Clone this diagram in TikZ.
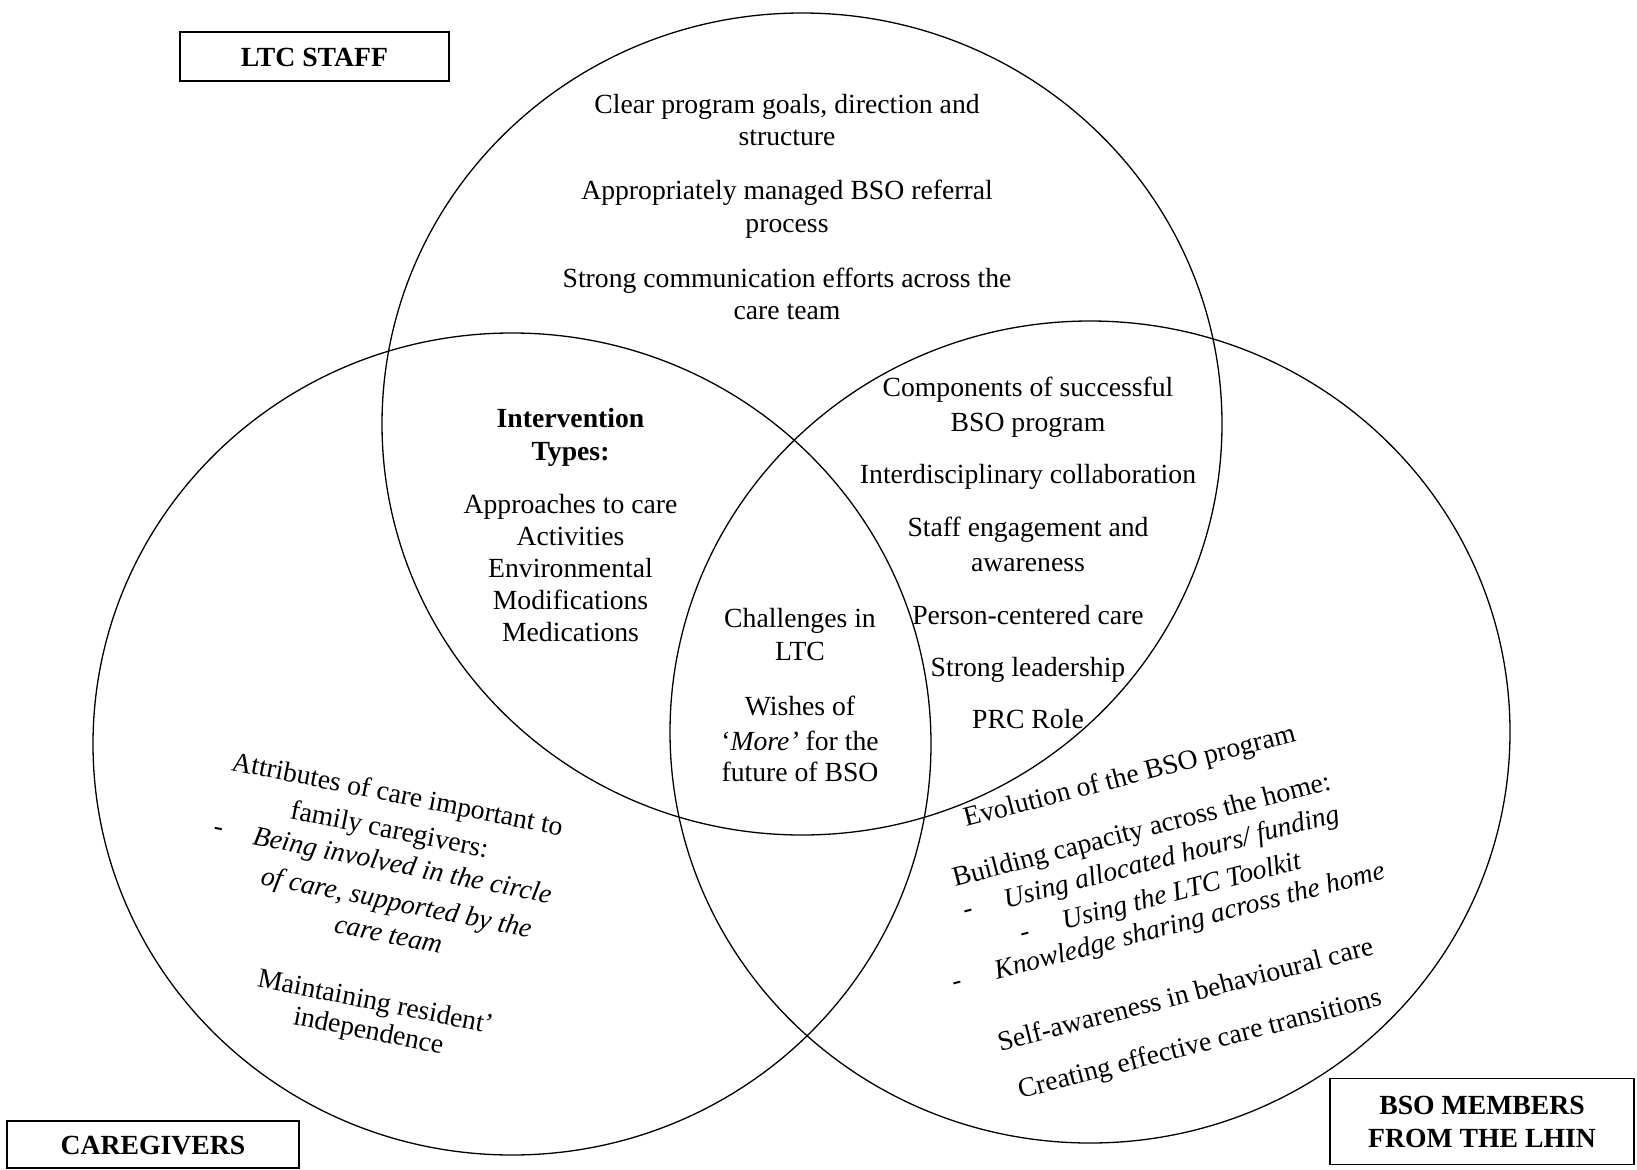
\documentclass[tikz,border=0pt]{standalone}
\usepackage{fontspec}
\setmainfont{Liberation Serif}
\begin{document}
\begin{tikzpicture}[x=1pt,y=-1pt,
  basefont/.style={font=\fontsize{27.7}{32}\selectfont},
  ln/.style={basefont, inner sep=0pt, text height=23.3pt, text depth=6pt},
  bl/.style={ln, font=\fontsize{27.7}{32}\selectfont\bfseries},
  rl/.style={basefont, inner sep=0pt, text height=18.3pt, text depth=6pt},
  ril/.style={rl, font=\fontsize{27.7}{32}\selectfont\itshape},
  venn/.style={draw=black, line width=1.3pt},
  box/.style={draw=black, line width=1.8pt, inner sep=0pt},
  boxlab/.style={box, font=\fontsize{27.7}{32}\selectfont\bfseries, text height=19.5pt, text depth=0pt}]
\useasboundingbox (0,0) rectangle (1637,1169);

% circles
\draw[venn] (802,424) ellipse [x radius=420pt, y radius=411pt];
\draw[venn] (512,744) ellipse [x radius=419pt, y radius=411pt];
\draw[venn] (1090,732) ellipse [x radius=420pt, y radius=411pt];

% group labels
\node[boxlab, minimum width=269pt, minimum height=49pt] (ltc) at (314.5,56.5) {LTC STAFF};
\node[boxlab, minimum width=292pt, minimum height=47pt] (cg) at (153,1144.5) {CAREGIVERS};
\node[box, align=center, font=\fontsize{27.7}{33}\selectfont\bfseries,
      minimum width=304pt, minimum height=86pt] (bso) at (1482,1121.5) {BSO MEMBERS\\FROM THE LHIN};

% LTC staff only
\node[ln] (a1) at (787,104.5) {Clear program goals, direction and};
\node[ln] (a2) at (787,137) {structure};
\node[ln] (a3) at (787,191) {Appropriately managed BSO referral};
\node[ln] (a4) at (787,223.5) {process};
\node[ln] (a5) at (787,279) {Strong communication efforts across the};
\node[ln] (a6) at (787,311) {care team};

% LTC staff & caregivers
\node[bl] (b1) at (570.5,419) {Intervention};
\node[bl] (b2) at (570.5,452) {Types:};
\node[ln] (b3) at (570.5,505) {Approaches to care};
\node[ln] (b4) at (570.5,537) {Activities};
\node[ln] (b5) at (570.5,569) {Environmental};
\node[ln] (b6) at (570.5,601) {Modifications};
\node[ln] (b7) at (570.5,633) {Medications};

% all three
\node[ln] (c1) at (800,619) {Challenges in};
\node[ln] (c2) at (800,652) {LTC};
\node[ln] (c3) at (800,707) {Wishes of};
\node[ln] (c4) at (800,742) {‘\textit{More’} for the};
\node[ln] (c5) at (800,773) {future of BSO};

% LTC staff & BSO
\node[ln] (d1) at (1028,388) {Components of successful};
\node[ln] (d2) at (1028,423) {BSO program};
\node[ln] (d3) at (1028,475) {Interdisciplinary collaboration};
\node[ln] (d4) at (1028,528) {Staff engagement and};
\node[ln] (d5) at (1028,563) {awareness};
\node[ln] (d6) at (1028,616) {Person-centered care};
\node[ln] (d7) at (1028,668) {Strong leadership};
\node[ln] (d8) at (1028,720) {PRC Role};

% caregivers only (rotated)
\begin{scope}[shift={(397,797)}, rotate=-11.3, transform shape]
\node[rl] (e1) at (0,0) {Attributes of care important to};
\node[rl] (e2) at (-0.9,35.9) {family caregivers:};
\node[rl] (e3d) at (-169,66.5) {-};
\node[ril] (e3) at (18.8,68.6) {Being involved in the circle};
\node[ril] (e4) at (20.2,106.1) {of care, supported by the};
\node[ril] (e5) at (18.6,139.1) {care team};
\node[rl] (e6) at (19,207.3) {Maintaining resident’};
\node[rl] (e7) at (17.9,237) {independence};
\end{scope}

% BSO only (rotated)
\begin{scope}[shift={(1130,778)}, rotate=14.5, transform shape]
\node[rl] (f1) at (0,0) {Evolution of the BSO program};
\node[rl] (f2) at (-1.9,55.3) {Building capacity across the home:};
\node[rl] (f3d) at (-190.4,89) {-};
\node[ril] (f3) at (20.4,88.9) {Using allocated hours/ funding};
\node[rl] (f4d) at (-140.7,124.7) {-};
\node[ril] (f4) at (21.5,124.3) {Using the LTC Toolkit};
\node[rl] (f5d) at (-219,156) {-};
\node[ril] (f5) at (21.8,155.4) {Knowledge sharing across the home};
\node[rl] (f6) at (-0.6,226) {Self-awareness in behavioural care};
\node[rl] (f7) at (0.7,277) {Creating effective care transitions};
\end{scope}
\end{tikzpicture}
\end{document}
